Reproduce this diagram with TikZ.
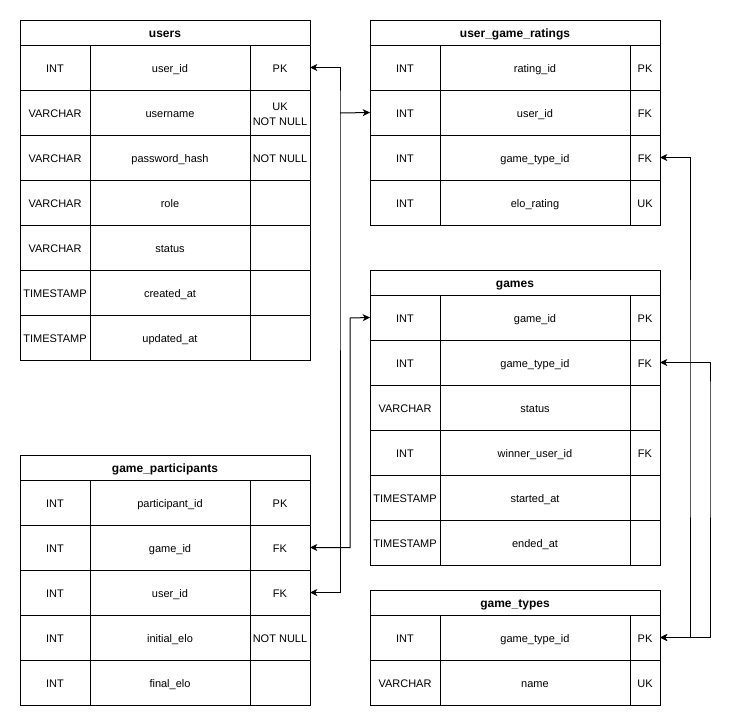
\documentclass[tikz,border=0pt]{standalone}
\usepackage{fontspec}
\setmainfont{Liberation Sans}
\usetikzlibrary{arrows.meta}
\newcommand\px{0.75pt}
\tikzset{
  cellbox/.style={draw=black, line width=0.75pt, inner sep=0pt, outer sep=0pt,
    minimum height=45*\px, align=center, text height=0.72em, text depth=0pt,
    font=\fontsize{8.25pt}{11.25pt}\selectfont, text=black},
  celltext/.style={inner sep=0pt, align=center,
    font=\fontsize{8.25pt}{11.25pt}\selectfont, text=black},
  hdrbox/.style={draw=black, line width=0.75pt, inner sep=0pt, outer sep=0pt,
    minimum height=25*\px, minimum width=290*\px, text height=0.72em, text depth=0pt,
    font=\fontsize{9pt}{11pt}\selectfont\bfseries, text=black},
  tipst/.style={},
  rel/.style={draw=black, line width=0.75pt,
    {Stealth[length=5.5pt,width=5.25pt,inset=1.6pt]}-{Stealth[length=5.5pt,width=5.25pt,inset=1.6pt]}},
  relone/.style={draw=black, line width=0.75pt, -{Stealth[length=5.5pt,width=5.25pt,inset=1.6pt]}}
}
% #1 name, #2 x, #3 y, #4 title, #5 col1 width, #6 col2 width, #7 rows
\newcommand\dbtable[7]{%
  \node[hdrbox] (#1) at (#2+145,#3+12.5) {#4};
  \foreach [count=\i] \a/\b/\c in {#7} {
    \pgfmathsetmacro\yy{#3+25+45*(\i-1)+22.5}
    \node[cellbox, minimum width=#5*\px] (#1-\i-t) at ({#2+#5/2},\yy) {\a};
    \node[cellbox, minimum width=#6*\px] (#1-\i-n) at ({#2+#5+#6/2},\yy) {\b};
    \node[cellbox, minimum width={(290-#5-#6)*\px}] (#1-\i-k) at ({#2+#5+#6+(290-#5-#6)/2},\yy) {\c};
  }
}
\begin{document}
\begin{tikzpicture}[x=0.75pt,y=-0.75pt]
\useasboundingbox[fill=white] (0,0) rectangle (740,726);

\dbtable{users}{20}{20}{users}{70}{160}{%
  INT/user\_id/PK,
  VARCHAR/username/{},
  VARCHAR/password\_hash/NOT NULL,
  VARCHAR/role/{},
  VARCHAR/status/{},
  TIMESTAMP/created\_at/{},
  TIMESTAMP/updated\_at/{}}
\node[celltext] (users-2-ktext) at ([yshift=-1pt]users-2-k.center) {UK\\NOT NULL};

\dbtable{ugr}{370}{20}{user\_game\_ratings}{70}{190}{%
  INT/rating\_id/PK,
  INT/user\_id/FK,
  INT/game\_type\_id/FK,
  INT/elo\_rating/UK}

\dbtable{games}{370}{270}{games}{70}{190}{%
  INT/game\_id/PK,
  INT/game\_type\_id/FK,
  VARCHAR/status/{},
  INT/winner\_user\_id/FK,
  TIMESTAMP/started\_at/{},
  TIMESTAMP/ended\_at/{}}

\dbtable{gt}{370}{590}{game\_types}{70}{190}{%
  INT/game\_type\_id/PK,
  VARCHAR/name/UK}

\dbtable{gp}{20}{455}{game\_participants}{70}{160}{%
  INT/participant\_id/PK,
  INT/game\_id/FK,
  INT/user\_id/FK,
  INT/initial\_elo/NOT NULL,
  INT/final\_elo/{}}

% junction coordinates
\coordinate (j1) at (340,113);
\coordinate (j2) at (350,318);
\coordinate (j3) at (690,400);
\coordinate (j4) at (710,400);

% users.user_id <-> game_participants.user_id, branch to user_game_ratings.user_id
\draw[rel] (gp-3-k.east) -| (j1) |- (users-1-k.east);
\draw[relone] (j1) -- (ugr-2-t.west);
% games.game_id <-> game_participants.game_id
\draw[rel] (gp-2-k.east) -| (j2) -- (games-1-t.west);
% game_types.game_type_id <-> user_game_ratings.game_type_id
\draw[rel] (ugr-3-k.east) -| (j3) |- (gt-1-k.east);
% game_types.game_type_id <-> games.game_type_id
\draw[rel] (games-2-k.east) -| (j4) |- (gt-1-k.east);
\end{tikzpicture}
\end{document}
